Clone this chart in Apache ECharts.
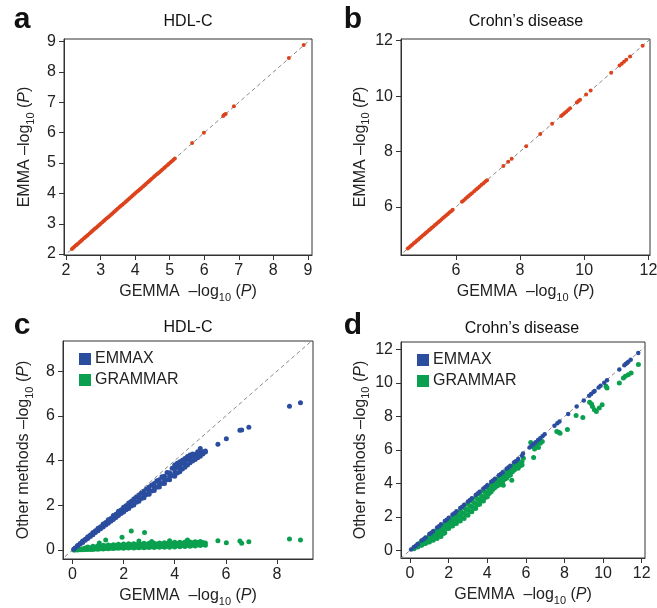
<!DOCTYPE html>
<html>
<head>
<meta charset="utf-8">
<script src="https://cdn.jsdelivr.net/npm/echarts@6/dist/echarts.min.js"></script>
<style>
  html, body { margin: 0; padding: 0; background: #fff; }
  #chart { width: 657px; height: 608px; }
</style>
</head>
<body>
<div id="chart"></div>
<script>
// panel a: HDL-C, EMMA vs GEMMA (-log10 P)
const hdlEmma = [
  [2.17,2.17],[2.2,2.2],[2.24,2.24],[2.28,2.28],[2.31,2.31],[2.35,2.35],[2.4,2.4],[2.44,2.44],[2.47,2.47],[2.52,2.52],
  [2.56,2.56],[2.6,2.6],[2.63,2.63],[2.68,2.68],[2.72,2.72],[2.76,2.76],[2.8,2.8],[2.84,2.84],[2.88,2.88],[2.92,2.92],
  [2.96,2.96],[3.0,3.0],[3.05,3.05],[3.09,3.09],[3.13,3.13],[3.17,3.17],[3.21,3.21],[3.25,3.25],[3.3,3.3],[3.34,3.34],
  [3.38,3.38],[3.42,3.42],[3.46,3.46],[3.5,3.5],[3.55,3.55],[3.59,3.59],[3.63,3.63],[3.67,3.67],[3.72,3.72],[3.76,3.76],
  [3.8,3.8],[3.84,3.84],[3.89,3.89],[3.93,3.93],[3.97,3.97],[4.01,4.01],[4.06,4.06],[4.1,4.1],[4.14,4.14],[4.18,4.18],
  [4.23,4.23],[4.27,4.27],[4.31,4.31],[4.36,4.36],[4.4,4.4],[4.44,4.44],[4.48,4.48],[4.53,4.53],[4.57,4.57],[4.62,4.62],
  [4.66,4.66],[4.7,4.7],[4.75,4.75],[4.79,4.79],[4.84,4.84],[4.88,4.88],[4.93,4.93],[4.97,4.97],[5.02,5.02],[5.06,5.06],
  [5.11,5.11],[5.15,5.15],[5.65,5.66],[5.99,6.0],[6.55,6.55],[6.58,6.59],[6.62,6.62],[6.86,6.87],[8.45,8.46],[8.88,8.89]
];

// panel b: Crohn's disease, EMMA vs GEMMA
const crohnEmma = [
  [4.5,4.5],[4.55,4.55],[4.6,4.6],[4.64,4.64],[4.69,4.69],[4.73,4.73],[4.78,4.78],[4.83,4.83],[4.87,4.87],[4.92,4.92],
  [4.97,4.97],[5.02,5.02],[5.06,5.06],[5.11,5.11],[5.16,5.16],[5.2,5.2],[5.25,5.25],[5.3,5.3],[5.35,5.35],[5.4,5.4],
  [5.45,5.45],[5.5,5.5],[5.55,5.55],[5.6,5.6],[5.65,5.65],[5.7,5.7],[5.75,5.75],[5.8,5.8],[5.85,5.85],[5.9,5.9],
  [6.19,6.19],[6.24,6.24],[6.3,6.3],[6.35,6.35],[6.4,6.4],[6.45,6.45],[6.5,6.5],[6.57,6.57],[6.63,6.63],[6.68,6.68],
  [6.74,6.74],[6.8,6.8],[6.86,6.86],[6.92,6.92],[6.97,6.97],[7.48,7.48],[7.63,7.63],[7.74,7.74],[8.19,8.19],[8.63,8.63],
  [9.0,9.0],[9.28,9.28],[9.33,9.33],[9.38,9.38],[9.44,9.44],[9.5,9.5],[9.56,9.56],[9.77,9.77],[9.82,9.82],[9.87,9.87],
  [10.06,10.06],[10.2,10.2],[10.84,10.84],[11.1,11.1],[11.17,11.17],[11.24,11.24],[11.31,11.31],[11.43,11.43],[11.82,11.82]
];

// panel c: HDL-C, other methods vs GEMMA
const hdlEmmax = [
  [0.05,0.04],[0.1,0.09],[0.2,0.18],[0.2,0.2],[0.3,0.27],[0.3,0.29],[0.4,0.34],[0.4,0.38],[0.4,0.4],[0.5,0.44],[0.5,0.48],
  [0.6,0.52],[0.6,0.56],[0.6,0.6],[0.7,0.61],[0.7,0.67],[0.8,0.69],[0.8,0.74],[0.8,0.79],[0.9,0.78],[0.9,0.86],
  [1.0,0.86],[1.0,0.92],[1.0,0.98],[1.1,0.95],[1.1,1.04],[1.2,1.03],[1.2,1.1],[1.2,1.17],[1.3,1.12],[1.3,1.23],
  [1.4,1.2],[1.4,1.28],[1.4,1.36],[1.5,1.29],[1.5,1.41],[1.6,1.37],[1.6,1.46],[1.6,1.55],[1.7,1.46],[1.7,1.6],
  [1.8,1.54],[1.8,1.64],[1.8,1.74],[1.9,1.63],[1.9,1.79],[2.0,1.7],[2.0,1.81],[2.0,1.92],[2.1,1.8],[2.1,1.98],
  [2.2,1.86],[2.2,1.98],[2.2,2.1],[2.3,1.97],[2.3,2.17],[2.4,2.02],[2.4,2.15],[2.4,2.28],[2.5,2.14],[2.5,2.36],
  [2.6,2.18],[2.6,2.32],[2.6,2.46],[2.7,2.31],[2.7,2.54],[2.8,2.34],[2.8,2.48],[2.8,2.64],[2.9,2.48],[2.9,2.73],
  [3.0,2.5],[3.0,2.65],[3.0,2.82],[3.1,2.64],[3.1,2.91],[3.2,2.66],[3.2,2.82],[3.2,2.98],[3.3,2.81],[3.3,3.1],
  [3.4,2.82],[3.4,2.98],[3.4,3.14],[3.5,2.98],[3.5,3.28],[3.6,2.98],[3.6,3.14],[3.6,3.3],[3.7,3.15],[3.7,3.47],
  [3.8,3.14],[3.8,3.3],[3.8,3.46],[3.9,3.32],[3.9,3.66],[4.0,3.3],[4.0,3.46],[4.0,3.62],[4.0,3.8],
  [4.1,3.45],[4.1,3.7],[4.1,3.88],[4.2,3.5],[4.2,3.62],[4.2,3.78],[4.2,3.95],[4.3,3.62],[4.3,3.88],[4.3,4.02],
  [4.4,3.7],[4.4,3.8],[4.4,3.95],[4.4,4.1],[4.5,3.8],[4.5,4.05],[4.5,4.18],[4.6,3.9],[4.6,4.0],[4.6,4.12],[4.6,4.25],
  [4.7,3.98],[4.7,4.2],[4.7,4.3],[4.8,4.05],[4.8,4.15],[4.8,4.28],[4.9,4.13],[4.9,4.3],[4.9,4.4],
  [5.0,4.2],[5.0,4.32],[5.0,4.54],[5.1,4.3],[5.1,4.4],[5.2,4.38],[5.2,4.43],
  [5.69,4.73],[6.02,4.98],[6.55,5.36],[6.62,5.37],[6.9,5.49],[8.49,6.43],[8.92,6.59]
];
const hdlGrammar = [
  [0.05,0.0],[0.1,0.0],[0.2,0.0],[0.2,0.03],[0.3,0.01],[0.3,0.05],[0.4,0.01],[0.4,0.06],[0.5,0.02],[0.5,0.09],
  [0.6,0.02],[0.6,0.09],[0.6,0.14],[0.7,0.03],[0.7,0.1],[0.8,0.03],[0.8,0.1],[0.8,0.17],[0.9,0.05],[0.9,0.14],
  [1.0,0.04],[1.0,0.11],[1.0,0.19],[1.1,0.06],[1.1,0.16],[1.2,0.05],[1.2,0.13],[1.2,0.21],[1.3,0.07],[1.3,0.18],
  [1.4,0.06],[1.4,0.14],[1.4,0.23],[1.5,0.08],[1.5,0.19],[1.6,0.07],[1.6,0.15],[1.6,0.24],[1.7,0.09],[1.7,0.21],
  [1.8,0.08],[1.8,0.16],[1.8,0.26],[1.9,0.1],[1.9,0.22],[2.0,0.08],[2.0,0.17],[2.0,0.27],[2.1,0.11],[2.1,0.23],
  [2.2,0.09],[2.2,0.18],[2.2,0.28],[2.3,0.12],[2.3,0.24],[2.4,0.09],[2.4,0.18],[2.4,0.28],[2.5,0.13],[2.5,0.24],
  [2.6,0.1],[2.6,0.19],[2.6,0.29],[2.7,0.14],[2.7,0.25],[2.8,0.1],[2.8,0.2],[2.8,0.3],[2.9,0.14],[2.9,0.26],
  [3.0,0.11],[3.0,0.21],[3.0,0.3],[3.1,0.15],[3.1,0.26],[3.2,0.11],[3.2,0.21],[3.2,0.31],[3.3,0.16],[3.3,0.27],
  [3.4,0.12],[3.4,0.22],[3.4,0.32],[3.5,0.16],[3.5,0.28],[3.6,0.12],[3.6,0.22],[3.6,0.33],[3.7,0.17],[3.7,0.29],
  [3.8,0.13],[3.8,0.23],[3.8,0.34],[3.9,0.18],[3.9,0.3],[4.0,0.14],[4.0,0.24],[4.0,0.35],[4.1,0.19],[4.1,0.3],
  [4.2,0.15],[4.2,0.25],[4.2,0.35],[4.3,0.2],[4.3,0.31],[4.4,0.16],[4.4,0.26],[4.4,0.36],[4.5,0.21],[4.5,0.32],
  [4.6,0.17],[4.6,0.27],[4.6,0.36],[4.7,0.22],[4.7,0.33],[4.8,0.18],[4.8,0.28],[4.8,0.37],[4.9,0.24],[4.9,0.34],
  [5.0,0.2],[5.0,0.3],[5.0,0.38],[5.1,0.25],[5.1,0.34],[5.2,0.22],[5.2,0.32],
  [1.05,0.32],[1.3,0.45],[1.94,0.57],[2.3,0.85],[2.6,0.4],[2.82,0.79],[3.1,0.38],[3.8,0.42],[4.5,0.45],
  [5.69,0.42],[6.02,0.33],[6.55,0.4],[6.62,0.3],[6.9,0.37],[8.49,0.49],[8.92,0.45]
];

// panel d: Crohn's disease, other methods vs GEMMA
const crohnEmmax = [
  [0.05,0.05],[0.2,0.19],[0.4,0.38],[0.6,0.58],[0.8,0.77],[1.0,0.97],[1.2,1.16],[1.4,1.36],[1.6,1.55],[1.8,1.75],
  [2.0,1.94],[2.2,2.14],[2.4,2.33],[2.6,2.53],[2.8,2.72],[3.0,2.92],[3.2,3.11],[3.4,3.31],[3.6,3.5],[3.8,3.7],
  [4.0,3.89],[4.2,4.09],[4.4,4.28],[4.6,4.48],[4.8,4.67],[5.0,4.87],[5.2,5.06],[5.4,5.26],[5.6,5.45],[5.8,5.65],
  [0.3,0.27],[0.7,0.66],[1.1,1.05],[1.5,1.44],[1.9,1.83],[2.3,2.22],[2.7,2.61],[3.1,3.0],[3.5,3.39],[3.9,3.78],
  [4.3,4.17],[4.7,4.56],[5.1,4.95],[5.5,5.34],[5.85,5.78],
  [6.19,6.15],[6.3,6.26],[6.4,6.36],[6.5,6.46],[6.63,6.59],[6.74,6.7],[6.86,6.82],[6.97,6.93],
  [7.48,7.44],[7.63,7.59],[7.74,7.7],[8.19,8.15],[8.63,8.59],[9.0,8.96],[9.28,9.24],[9.38,9.34],[9.5,9.46],[9.56,9.52],
  [9.77,9.73],[9.87,9.83],[10.06,10.02],[10.2,10.16],[10.84,10.8],[11.1,11.06],[11.17,11.13],[11.24,11.2],[11.31,11.27],
  [11.43,11.39],[11.82,11.8]
];
const crohnGrammar = [
  [0.2,0.1],[0.2,0.16],[0.3,0.2],[0.4,0.2],[0.4,0.3],[0.4,0.36],[0.5,0.3],[0.5,0.42],[0.6,0.3],[0.6,0.42],[0.6,0.55],
  [0.7,0.4],[0.7,0.58],[0.8,0.4],[0.8,0.55],[0.8,0.72],[0.9,0.5],[0.9,0.72],[1.0,0.5],[1.0,0.68],[1.0,0.88],
  [1.1,0.62],[1.1,0.85],[1.2,0.6],[1.2,0.8],[1.2,1.05],[1.3,0.75],[1.3,1.0],[1.4,0.7],[1.4,0.95],[1.4,1.22],
  [1.5,0.9],[1.5,1.18],[1.6,0.82],[1.6,1.1],[1.6,1.4],[1.7,1.1],[1.7,1.35],[1.73,1.0],[1.8,1.05],[1.8,1.3],[1.8,1.58],
  [1.9,1.3],[1.9,1.55],[2.0,1.3],[2.0,1.5],[2.0,1.75],[2.1,1.45],[2.1,1.72],[2.2,1.45],[2.2,1.7],[2.2,1.95],
  [2.3,1.6],[2.3,1.9],[2.4,1.6],[2.4,1.88],[2.4,2.15],[2.5,1.78],[2.5,2.08],[2.6,1.75],[2.6,2.05],[2.6,2.35],
  [2.7,1.95],[2.7,2.25],[2.8,1.9],[2.8,2.22],[2.8,2.55],[2.9,2.12],[2.9,2.45],[3.0,2.1],[3.0,2.4],[3.0,2.75],
  [3.1,2.32],[3.1,2.65],[3.2,2.3],[3.2,2.6],[3.2,2.95],[3.3,2.52],[3.3,2.85],[3.4,2.5],[3.4,2.8],[3.4,3.15],
  [3.5,2.72],[3.5,3.05],[3.6,2.75],[3.6,3.0],[3.6,3.35],[3.7,2.95],[3.7,3.25],[3.8,2.95],[3.8,3.2],[3.8,3.55],
  [3.9,3.15],[3.9,3.45],[4.0,3.2],[4.0,3.45],[4.0,3.75],[4.1,3.4],[4.1,3.68],[4.2,3.5],[4.2,3.7],[4.2,3.95],
  [4.3,3.65],[4.3,3.9],[4.4,3.75],[4.4,3.95],[4.4,4.15],[4.5,3.85],[4.5,4.1],[4.6,3.9],[4.6,4.15],[4.6,4.35],
  [4.7,4.05],[4.7,4.3],[4.8,4.1],[4.8,4.35],[4.8,4.55],[4.9,4.25],[4.9,4.5],[5.0,4.3],[5.0,4.55],[5.0,4.75],
  [5.1,4.45],[5.1,4.7],[5.2,4.5],[5.2,4.75],[5.2,4.95],[5.3,4.7],[5.3,4.9],[5.4,4.8],[5.4,5.0],[5.4,5.15],
  [5.5,4.9],[5.5,5.1],[5.6,4.9],[5.6,5.15],[5.6,5.3],[5.7,5.05],[5.7,5.25],[5.8,5.1],[5.8,5.3],
  [4.83,3.89],[5.27,4.19],[5.87,5.5],[6.25,6.45],[6.35,6.2],[6.45,6.05],[6.55,6.3],[6.65,6.15],[6.75,6.4],[6.85,6.5],
  [6.4,5.55],[7.6,7.1],[7.7,7.05],[7.77,7.0],[8.15,7.22],[8.6,8.05],[8.95,7.94],[9.3,8.85],[9.4,8.75],[9.45,8.6],
  [9.55,8.4],[9.65,8.3],[9.8,8.5],[9.95,8.7],[10.15,9.8],[10.2,9.7],[10.84,10.0],[11.05,10.3],[11.15,10.4],
  [11.3,10.5],[11.45,10.6],[11.83,11.1]
];

// tick values per panel
const ticksA = [2, 3, 4, 5, 6, 7, 8, 9];
const ticksB = [6, 8, 10, 12];
const ticksC = [0, 2, 4, 6, 8];
const ticksD = [0, 2, 4, 6, 8, 10, 12];

const FONT = '"Liberation Sans", Arial, Helvetica, sans-serif';
const INK = '#222';
const RED = '#dc431c';
const BLUE = '#2b4d9f';
const GREEN = '#0ba04f';

const rich = {
  n: { fontSize: 16, lineHeight: 22, color: INK, fontFamily: FONT },
  s: { fontSize: 11, lineHeight: 10, verticalAlign: 'bottom', color: INK, fontFamily: FONT },
  i: { fontSize: 16, lineHeight: 22, fontStyle: 'italic', color: INK, fontFamily: FONT }
};
const xName = '{n|GEMMA  \u2013log}{s|10}{n| (}{i|P}{n|)}';
const yNameEmma = '{n|EMMA \u2013log}{s|10}{n| (}{i|P}{n|)}';
const yNameOther = '{n|Other methods \u2013log}{s|10}{n| (}{i|P}{n|)}';

const grids = [
  { left: 64, top: 39, width: 248, height: 216 },
  { left: 401, top: 39, width: 249, height: 216 },
  { left: 63, top: 341, width: 250, height: 218 },
  { left: 401, top: 342, width: 244, height: 216 }
].map(g => Object.assign(g, {
  show: true, borderColor: '#333', borderWidth: 1, backgroundColor: 'transparent',
  containLabel: false, outerBoundsMode: 'none'
}));

function axis(gi, dir, min, max, ticks, name, gap) {
  return {
    type: 'value', gridIndex: gi, min: min, max: max,
    position: dir === 'x' ? 'bottom' : 'left',
    name: name, nameLocation: 'middle', nameGap: gap,
    nameTextStyle: { rich: rich },
    axisLine: { show: true, onZero: false, lineStyle: { color: '#333', width: 1 } },
    axisTick: { show: true, inside: false, length: 5, customValues: ticks, lineStyle: { color: '#333' } },
    axisLabel: { show: true, margin: 8, customValues: ticks, fontSize: 16, color: INK, fontFamily: FONT },
    splitLine: { show: false }
  };
}

const xAxes = [
  axis(0, 'x', 1.94, 9.12, ticksA, xName, 26),
  axis(1, 'x', 4.29, 12.05, ticksB, xName, 26),
  axis(2, 'x', -0.37, 9.41, ticksC, xName, 26),
  axis(3, 'x', -0.47, 12.17, ticksD, xName, 26)
];
const yAxes = [
  axis(0, 'y', 1.97, 9.09, ticksA, yNameEmma, 28),
  axis(1, 'y', 4.27, 12.06, ticksB, yNameEmma, 28),
  axis(2, 'y', -0.4, 9.35, ticksC, yNameOther, 28),
  axis(3, 'y', -0.46, 12.45, ticksD, yNameOther, 28)
];

const diagonals = [
  [[1.9, 1.9], [9.2, 9.2]],
  [[4.2, 4.2], [12.1, 12.1]],
  [[-0.5, -0.5], [9.5, 9.5]],
  [[-0.5, -0.5], [12.5, 12.5]]
];

const series = diagonals.map((d, i) => ({
  type: 'line', xAxisIndex: i, yAxisIndex: i, data: d, symbol: 'none', silent: true, clip: true,
  lineStyle: { color: '#888', width: 1, type: [4, 3] }, z: 1
}));

function dots(name, gi, data, color, size) {
  return {
    name: name, type: 'scatter', xAxisIndex: gi, yAxisIndex: gi, data: data,
    symbolSize: size, itemStyle: { color: color, opacity: 1 }, z: 2
  };
}
series.push(dots('EMMA_HDL', 0, hdlEmma, RED, 4));
series.push(dots('EMMA_CD', 1, crohnEmma, RED, 4));
series.push(dots('GRAMMAR', 2, hdlGrammar, GREEN, 5));
series.push(dots('EMMAX', 2, hdlEmmax, BLUE, 5));
series.push(dots('GRAMMAR', 3, crohnGrammar, GREEN, 5));
series.push(dots('EMMAX', 3, crohnEmmax, BLUE, 4.5));

function legend(left, top) {
  return {
    data: ['EMMAX', 'GRAMMAR'], orient: 'vertical', left: left, top: top,
    icon: 'rect', itemWidth: 12, itemHeight: 12, itemGap: 5, padding: 0,
    textStyle: { fontSize: 16, color: INK, fontFamily: FONT, padding: [0, 0, 0, -1] },
    selectedMode: false
  };
}

function txt(x, y, s, size, weight) {
  return {
    type: 'text', x: x, y: y, silent: true,
    style: { text: s, fontSize: size, fontWeight: weight, fontFamily: FONT, fill: '#111',
      textAlign: 'center', textVerticalAlign: 'middle' }
  };
}

const chart = echarts.init(document.getElementById('chart'), null, { renderer: 'canvas' });
chart.setOption({
  animation: false,
  backgroundColor: '#fff',
  grid: grids,
  xAxis: xAxes,
  yAxis: yAxes,
  legend: [legend(79, 351), legend(417, 352)],
  graphic: [
    txt(22, 20, 'a', 30, 'bold'), txt(188, 22, 'HDL-C', 16, 'normal'),
    txt(353, 20, 'b', 30, 'bold'), txt(526, 22, 'Crohn\u2019s disease', 16, 'normal'),
    txt(22, 326, 'c', 30, 'bold'), txt(188, 328, 'HDL-C', 16, 'normal'),
    txt(353, 326, 'd', 30, 'bold'), txt(522, 329, 'Crohn\u2019s disease', 16, 'normal')
  ],
  series: series
});
</script>
</body>
</html>
